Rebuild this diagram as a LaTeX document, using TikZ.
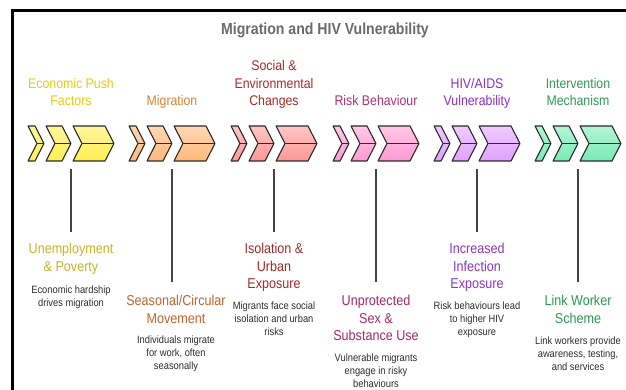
\documentclass[tikz,border=0pt]{standalone}
\usepackage{fontspec}
\setmainfont[FakeStretch=0.88]{Liberation Sans}

% stage colours
\definecolor{chevedge}{HTML}{2B2B2B}
\definecolor{stemgray}{HTML}{444444}
\definecolor{desc}{HTML}{2E2E2E}
\definecolor{titlegray}{HTML}{6B6B6B}
\definecolor{fillA}{HTML}{FFEF4F}
\definecolor{fillB}{HTML}{FFB878}
\definecolor{fillC}{HTML}{FF9696}
\definecolor{fillD}{HTML}{FF9AD2}
\definecolor{fillE}{HTML}{E1A0FF}
\definecolor{fillF}{HTML}{78EBB4}
\definecolor{headA}{HTML}{E6CC14}
\definecolor{headB}{HTML}{DC8232}
\definecolor{headC}{HTML}{A52A2A}
\definecolor{headD}{HTML}{B03070}
\definecolor{headE}{HTML}{8B2FC0}
\definecolor{headF}{HTML}{2E9A55}
\definecolor{subA}{HTML}{C8B428}
\definecolor{subB}{HTML}{C3642A}
\definecolor{subC}{HTML}{A52A2A}
\definecolor{subD}{HTML}{A8286A}
\definecolor{subE}{HTML}{8E35C5}
\definecolor{subF}{HTML}{2A9A4E}

% one chevron between x = #1 and x = #2, filled with colour #3
\newcommand\chevron[3]{%
  \shadedraw[chev, top color=#3!55!white, bottom color=#3]
    (#1,126) -- (#2-9,126) -- (#2,143.5) -- (#2-9,161) -- (#1,161) -- (#1+9,143.5) -- cycle;
  \draw[chevedge, line width=0.6pt] (#1+9,143.5) -- (#2,143.5);}
% three growing chevrons starting at x = #1
\newcommand\chevgroup[2]{%
  \chevron{#1}{#1+16}{#2}
  \chevron{#1+18}{#1+43}{#2}
  \chevron{#1+45}{#1+86}{#2}}

\begin{document}
\begin{tikzpicture}[x=1pt,y=-1pt,
  toplabel/.style={font=\fontsize{14}{17.5}\selectfont, align=center, anchor=south, inner sep=0pt, text depth=0pt},
  steptitle/.style={font=\fontsize{14.3}{17.5}\selectfont, align=center, anchor=north, inner sep=0pt},
  stepdesc/.style={font=\fontsize{10.6}{13}\selectfont, text=desc, align=center, anchor=north, inner sep=0pt},
  stem/.style={draw=stemgray, line width=1.2pt},
  chev/.style={draw=chevedge, line width=1.1pt, line join=round},
  frame/.style={draw=black, line width=3pt}]

\useasboundingbox (0,0) rectangle (626,390);
\fill[white] (0,0) rectangle (626,390);
\draw[frame] (12,11) rectangle (660,420);

% heading
\node[font=\fontsize{16}{19}\selectfont\bfseries, text=titlegray, anchor=base] (title) at (325,35) {Migration and HIV Vulnerability};

% stage headings
\node[toplabel, text=headA] (h1) at (71,106) {Economic Push\\Factors};
\node[toplabel, text=headB] (h2) at (172,106) {Migration};
\node[toplabel, text=headC] (h3) at (274,106) {Social \&\\Environmental\\Changes};
\node[toplabel, text=headD] (h4) at (376,106) {Risk Behaviour};
\node[toplabel, text=headE] (h5) at (477,106) {HIV/AIDS\\Vulnerability};
\node[toplabel, text=headF] (h6) at (578,106) {Intervention\\Mechanism};

% chevrons
\chevgroup{28}{fillA}
\chevgroup{129}{fillB}
\chevgroup{231}{fillC}
\chevgroup{333}{fillD}
\chevgroup{434}{fillE}
\chevgroup{535}{fillF}

% stems start below each chevron group
\coordinate (s1) at (71,169);
\coordinate (s2) at (172,169);
\coordinate (s3) at (274,169);
\coordinate (s4) at (376,169);
\coordinate (s5) at (477,169);
\coordinate (s6) at (578,169);

% outcomes
\node[steptitle, text=subA] (t1) at (71,243) {Unemployment\\\& Poverty};
\node[steptitle, text=subB] (t2) at (176,295) {Seasonal/Circular\\Movement};
\node[steptitle, text=subC] (t3) at (274,243) {Isolation \&\\Urban\\Exposure};
\node[steptitle, text=subD] (t4) at (376,295) {Unprotected\\Sex \&\\Substance Use};
\node[steptitle, text=subE] (t5) at (477,243) {Increased\\Infection\\Exposure};
\node[steptitle, text=subF] (t6) at (578,295) {Link Worker\\Scheme};

\node[stepdesc] (d1) at (71,286) {Economic hardship\\drives migration};
\node[stepdesc] (d2) at (176,336) {Individuals migrate\\for work, often\\seasonally};
\node[stepdesc] (d3) at (274,302) {Migrants face social\\isolation and urban\\risks};
\node[stepdesc] (d4) at (376,354) {Vulnerable migrants\\engage in risky\\behaviours};
\node[stepdesc] (d5) at (477,302) {Risk behaviours lead\\to higher HIV\\exposure};
\node[stepdesc] (d6) at (578,337) {Link workers provide\\awareness, testing,\\and services};

\draw[stem, shorten >=11pt] (s1) -- (t1.north);
\draw[stem, shorten >=13pt] (s2) -- (s2 |- t2.north);
\draw[stem, shorten >=11pt] (s3) -- (t3.north);
\draw[stem, shorten >=13pt] (s4) -- (t4.north);
\draw[stem, shorten >=11pt] (s5) -- (t5.north);
\draw[stem, shorten >=13pt] (s6) -- (t6.north);
\end{tikzpicture}
\end{document}
